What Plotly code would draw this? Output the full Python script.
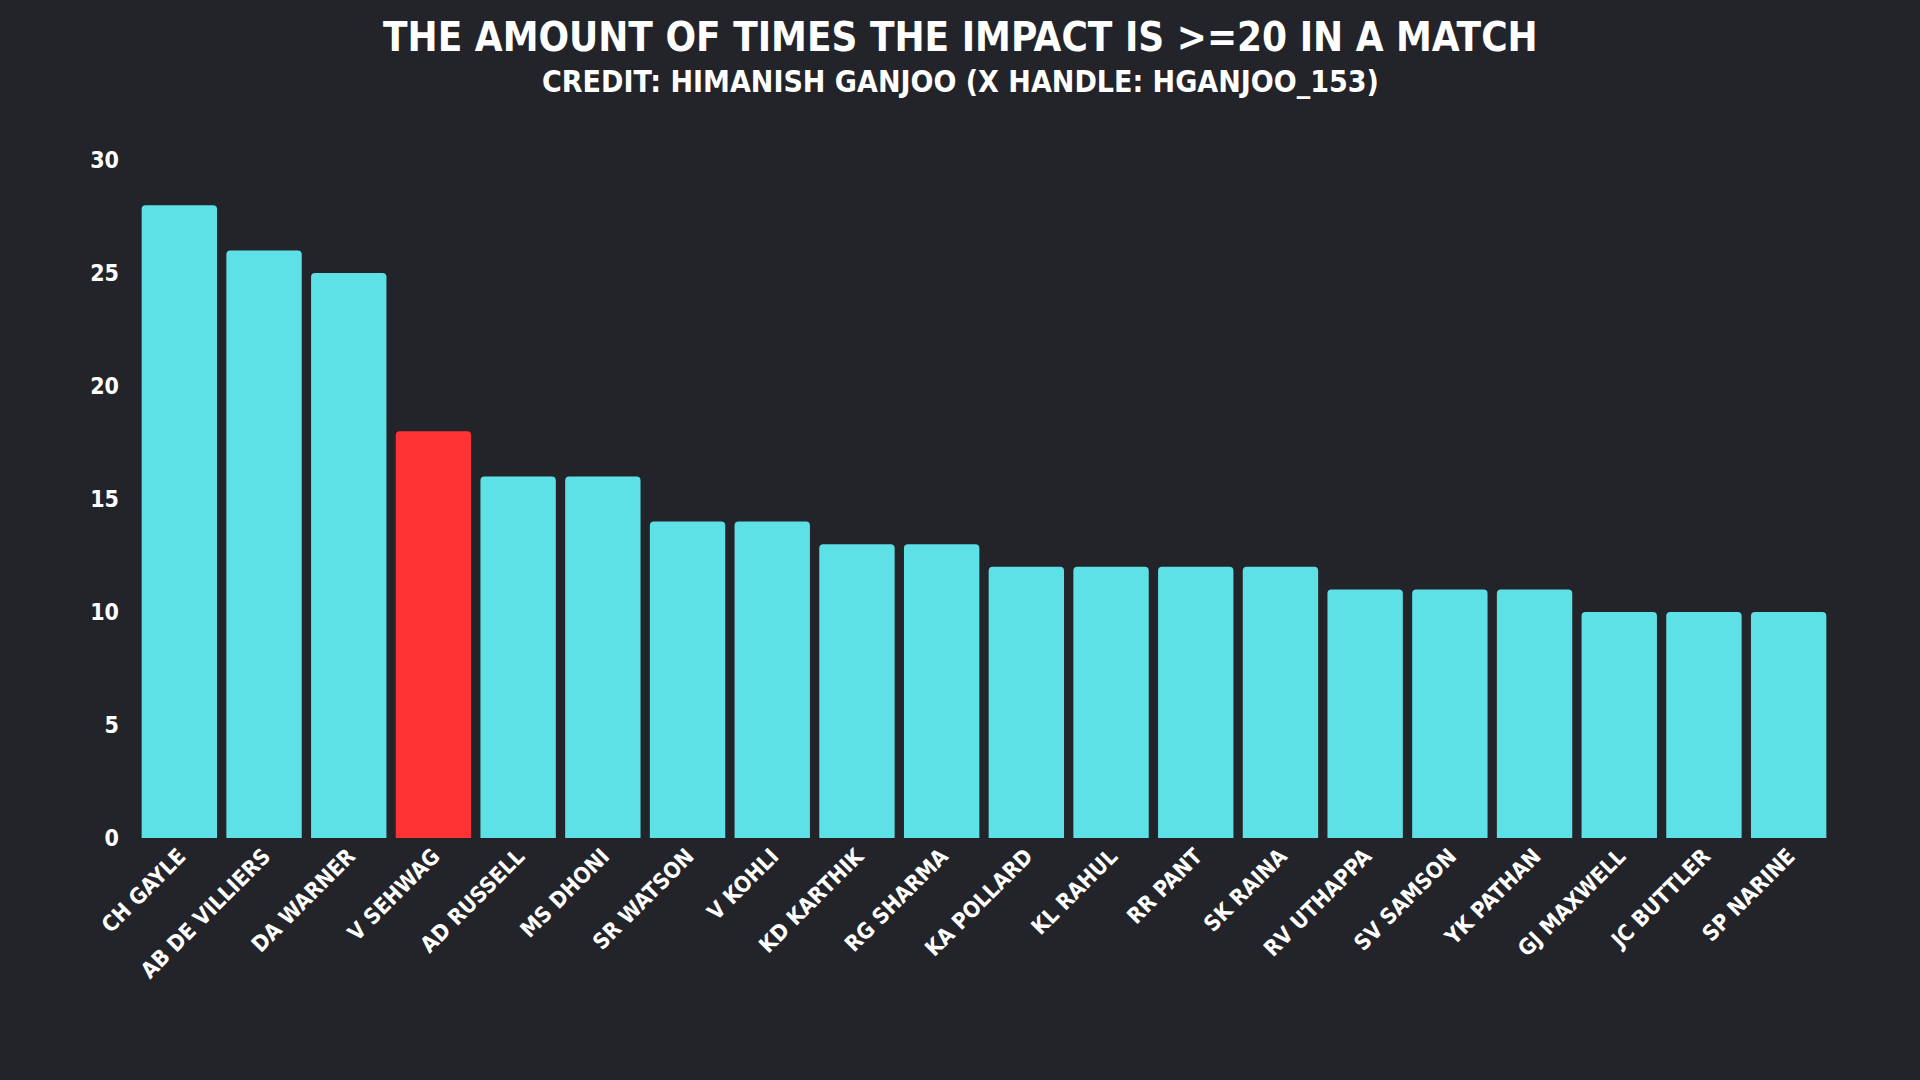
import plotly.graph_objects as go

players = ['CH GAYLE', 'AB DE VILLIERS', 'DA WARNER', 'V SEHWAG', 'AD RUSSELL',
           'MS DHONI', 'SR WATSON', 'V KOHLI', 'KD KARTHIK', 'RG SHARMA',
           'KA POLLARD', 'KL RAHUL', 'RR PANT', 'SK RAINA', 'RV UTHAPPA',
           'SV SAMSON', 'YK PATHAN', 'GJ MAXWELL', 'JC BUTTLER', 'SP NARINE']
impact_20_count = [28, 26, 25, 18, 16, 16, 14, 14, 13, 13,
                   12, 12, 12, 12, 11, 11, 11, 10, 10, 10]
y_ticks = [0, 5, 10, 15, 20, 25, 30]
highlight = 'V SEHWAG'

title = 'THE AMOUNT OF TIMES THE IMPACT IS >=20 IN A MATCH'
subtitle = 'CREDIT: HIMANISH GANJOO (X HANDLE: HGANJOO_153)'

BG = '#232429'
CYAN = '#5DE0E6'
RED = '#FF3333'
FONT = 'DejaVu Sans Condensed, DejaVu Sans, sans-serif'

colors = [RED if p == highlight else CYAN for p in players]

fig = go.Figure(go.Bar(x=players, y=impact_20_count,
                       marker=dict(color=colors, line=dict(width=0))))

fig.update_layout(
    width=1920, height=1080,
    paper_bgcolor=BG, plot_bgcolor=BG,
    margin=dict(l=137, r=89, t=160, b=242),
    bargap=0.11,
    barcornerradius=4,
    showlegend=False,
    font=dict(family=FONT, color='white', weight='bold'),
)

# titles centred on the page, not on the plot area
page_center = (960 - 137) / (1920 - 137 - 89)
fig.add_annotation(text=title, xref='paper', yref='paper', x=page_center, y=1.181,
                   xanchor='center', yanchor='middle', showarrow=False,
                   font=dict(family=FONT, size=40, color='white', weight='bold'))
fig.add_annotation(text=subtitle, xref='paper', yref='paper', x=page_center, y=1.1165,
                   xanchor='center', yanchor='middle', showarrow=False,
                   font=dict(family=FONT, size=30, color='white', weight='bold'))

fig.update_xaxes(tickangle=-45, showgrid=False, zeroline=False, showline=False,
                 tickfont=dict(family=FONT, size=22, color='white', weight='bold'))
fig.update_yaxes(range=[0, 30], showgrid=False, zeroline=False, showline=False,
                 tickvals=y_ticks,
                 tickfont=dict(family=FONT, size=23, color='white', weight='bold'),
                 ticklabelstandoff=17)

fig.write_html('out.html', config={'displayModeBar': False},
               post_script="document.body.style.margin='0';"
                           "document.body.style.background='#232429';")
